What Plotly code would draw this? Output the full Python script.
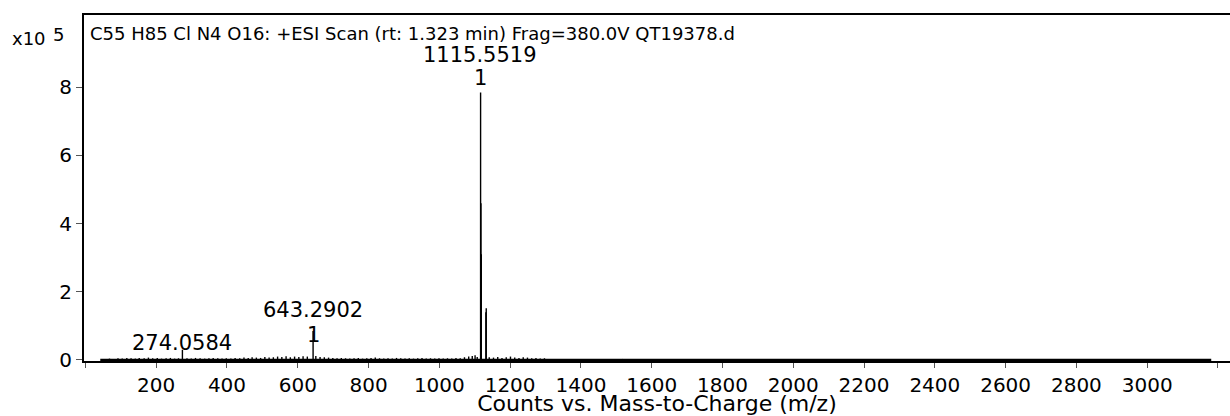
import plotly.graph_objects as go

# ---- data (intensities in units of 1e5 counts) ----
peak_mz = [1115.5519, 1116.555, 1117.552, 1118.555, 1131.526, 1132.53, 643.2902, 274.0584]
peak_int = [7.85, 4.6, 3.1, 1.4, 1.52, 0.85, 0.30, 0.06]

noise_mz = [55, 68, 80, 92, 104, 117, 129, 141, 152, 166, 178, 190, 203, 215, 228, 240,
            252, 263, 287, 299, 311, 324, 337, 349, 361, 374, 386, 398, 411, 423, 436,
            448, 460, 471, 483, 495, 507, 519, 531, 543, 555, 567, 579, 591, 603, 615,
            627, 651, 663, 675, 687, 699, 711, 723, 735, 747, 759, 771, 783, 795, 807,
            819, 831, 843, 855, 867, 879, 891, 903, 915, 927, 939, 951, 963, 975, 987,
            999, 1011, 1023, 1035, 1047, 1059, 1071, 1083, 1093, 1101, 1107, 1141, 1153,
            1165, 1177, 1189, 1201, 1213, 1225, 1237, 1249, 1261, 1273, 1285, 1297, 1335,
            1377, 1442, 1518]
noise_int = [0.03, 0.04, 0.03, 0.05, 0.04, 0.06, 0.05, 0.04, 0.06, 0.05, 0.07, 0.05, 0.06,
             0.04, 0.05, 0.06, 0.04, 0.05, 0.05, 0.04, 0.06, 0.05, 0.04, 0.05, 0.06, 0.05,
             0.04, 0.05, 0.04, 0.06, 0.05, 0.07, 0.06, 0.08, 0.07, 0.06, 0.09, 0.07, 0.08,
             0.10, 0.09, 0.11, 0.08, 0.10, 0.09, 0.11, 0.10, 0.12, 0.09, 0.08, 0.07, 0.06,
             0.05, 0.06, 0.05, 0.04, 0.05, 0.06, 0.04, 0.05, 0.06, 0.07, 0.05, 0.04, 0.05,
             0.04, 0.06, 0.05, 0.04, 0.05, 0.04, 0.05, 0.06, 0.04, 0.05, 0.04, 0.05, 0.04,
             0.05, 0.04, 0.06, 0.05, 0.08, 0.10, 0.12, 0.14, 0.09, 0.08, 0.07, 0.09, 0.06,
             0.08, 0.10, 0.07, 0.06, 0.08, 0.07, 0.05, 0.06, 0.04, 0.05, 0.03, 0.03, 0.02,
             0.03, 0.02]

baseline_mz = [42, 3181]
baseline_int = [0, 0]

labels_text = ["1115.5519", "643.2902", "274.0584"]
labels_mz = [1115.5519, 643.2902, 274.0584]
labels_y = [8.95, 1.48, 0.49]
marker_mz = [1115.5519, 643.2902]
marker_y = [8.28, 0.72]

x_tickvals = list(range(0, 3201, 200))
x_ticktext = ["" if v in (0, 3200) else str(v) for v in x_tickvals]
y_tickvals = [0, 2, 4, 6, 8]

title_text = "C55 H85 Cl N4 O16: +ESI Scan (rt: 1.323 min) Frag=380.0V QT19378.d"
xaxis_title = "Counts vs. Mass-to-Charge (m/z)"

FONT = "DejaVu Sans, Liberation Sans, Arial, sans-serif"

# stick spectrum
sx, sy = [], []
for m, h in zip(noise_mz + peak_mz, noise_int + peak_int):
    sx += [m, m, None]
    sy += [0, h, None]

fig = go.Figure()
fig.add_trace(go.Scatter(x=baseline_mz, y=baseline_int, mode="lines",
                         line=dict(color="black", width=2.5), hoverinfo="skip"))
fig.add_trace(go.Scatter(x=sx, y=sy, mode="lines",
                         line=dict(color="black", width=1.4), hoverinfo="skip"))

for t, m, y in zip(labels_text, labels_mz, labels_y):
    fig.add_annotation(x=m, y=y, text=t, showarrow=False, xanchor="center", yanchor="middle",
                       font=dict(family=FONT, size=21, color="black"))
for m, y in zip(marker_mz, marker_y):
    fig.add_annotation(x=m, y=y, text="1", showarrow=False, xanchor="center", yanchor="middle",
                       font=dict(family=FONT, size=21, color="black"))

# title inside frame
fig.add_annotation(xref="paper", yref="paper", x=(88 - 84) / 1146, y=(361 - 34) / 346,
                   text=title_text, showarrow=False, xanchor="left", yanchor="middle",
                   font=dict(family=FONT, size=18, color="black"))
# x10^5 exponent
fig.add_annotation(xref="paper", yref="paper", x=(48 - 84) / 1146, y=(361 - 39) / 346,
                   text="x10", showarrow=False, xanchor="right", yanchor="middle",
                   font=dict(family=FONT, size=18, color="black"))
fig.add_annotation(xref="paper", yref="paper", x=(58 - 84) / 1146, y=(361 - 35) / 346,
                   text="5", showarrow=False, xanchor="center", yanchor="middle",
                   font=dict(family=FONT, size=18, color="black"))

fig.update_layout(
    width=1230, height=416,
    margin=dict(l=84, r=0, t=15, b=55),
    plot_bgcolor="white", paper_bgcolor="white",
    showlegend=False,
    font=dict(family=FONT, color="black"),
)
fig.update_xaxes(range=[-4, 3234], tickvals=x_tickvals, ticktext=x_ticktext,
                 ticks="outside", ticklen=5, tickcolor="#555", tickwidth=1,
                 showline=True, linecolor="black", linewidth=2, mirror=True,
                 showgrid=False, zeroline=False,
                 tickfont=dict(family=FONT, size=20, color="black"),
                 title=dict(text=xaxis_title, font=dict(family=FONT, size=22, color="black"),
                            standoff=0))
fig.update_yaxes(range=[-0.03, 10.12], tickvals=y_tickvals,
                 ticks="outside", ticklen=6, tickcolor="#555", tickwidth=1,
                 showline=True, linecolor="black", linewidth=2,
                 showgrid=False, zeroline=False,
                 tickfont=dict(family=FONT, size=20, color="black"))

fig.write_html("out.html")
